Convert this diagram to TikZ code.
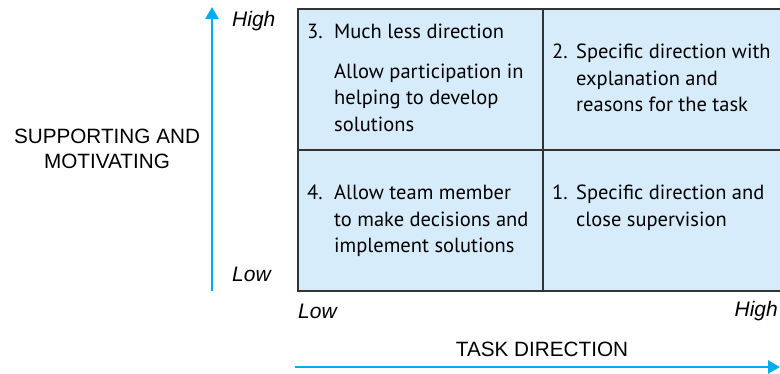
\documentclass[tikz,border=0pt]{standalone}
\usepackage{fontspec}
\setmainfont{Liberation Sans}
\newfontfamily\cellfont{PT Sans}
\usepackage{xcolor}
\usetikzlibrary{arrows.meta,positioning}
\definecolor{cyanx}{HTML}{00AEEF}
\definecolor{cellblue}{HTML}{D6ECFA}
\definecolor{gridgray}{HTML}{333333}

\begin{document}
\begin{tikzpicture}[x=1pt,y=-1pt,
  cell/.style={draw=gridgray,line width=1.6pt,fill=cellblue,anchor=north west,
    minimum width=245pt,minimum height=141pt,inner sep=0pt},
  celltext/.style={anchor=north west,inner sep=0pt,align=left,
    font=\cellfont\fontsize{20.5}{26.5}\selectfont},
  axislab/.style={font=\fontsize{20.7}{25}\selectfont,align=center},
  scalelab/.style={font=\itshape\fontsize{21}{22}\selectfont,inner sep=0pt},
  axisarrow/.style={draw=cyanx,line width=2.8pt,-{Triangle[length=12pt,width=13pt]}}]
\useasboundingbox (0,0) rectangle (780,374);
% quadrants
\foreach \x/\y/\nm in {297/8/q3,542/8/q2,297/149/q4,542/149/q1}{\node[cell] (\nm) at (\x,\y) {};}
% quadrant texts
\node[celltext] (n3) at (307,24) {3.};
\node[celltext] (t3) at (334,24) {Much less direction\\[13pt]Allow participation in\\helping to develop\\solutions};
\node[celltext] (n2) at (552,44) {2.};
\node[celltext] (t2) at (576,44) {Specific direction with\\explanation and\\reasons for the task};
\node[celltext] (n4) at (307,185) {4.};
\node[celltext] (t4) at (334,185) {Allow team member\\to make decisions and\\implement solutions};
\node[celltext] (n1) at (552,185) {1.};
\node[celltext] (t1) at (576,185) {Specific direction and\\close supervision};
% axes
\coordinate (vlo) at (212,291);
\coordinate (vhi) at (212,7);
\draw[axisarrow] (vlo) -- (vhi);
\coordinate (hlo) at (295,367);
\coordinate (hhi) at (780,367);
\draw[axisarrow] (hlo) -- (hhi);
\node[axislab] (ylab) at (107,149) {SUPPORTING AND\\MOTIVATING};
\node[axislab] (xlab) at (542,349) {TASK DIRECTION};
\node[scalelab,anchor=west] (yhigh) at (232,21) {High};
\node[scalelab,anchor=west] (ylow) at (232,274) {Low};
\node[scalelab,anchor=west] (xlow) at (298,311) {Low};
\node[scalelab,anchor=east] (xhigh) at (778,311) {High};
\end{tikzpicture}
\end{document}
